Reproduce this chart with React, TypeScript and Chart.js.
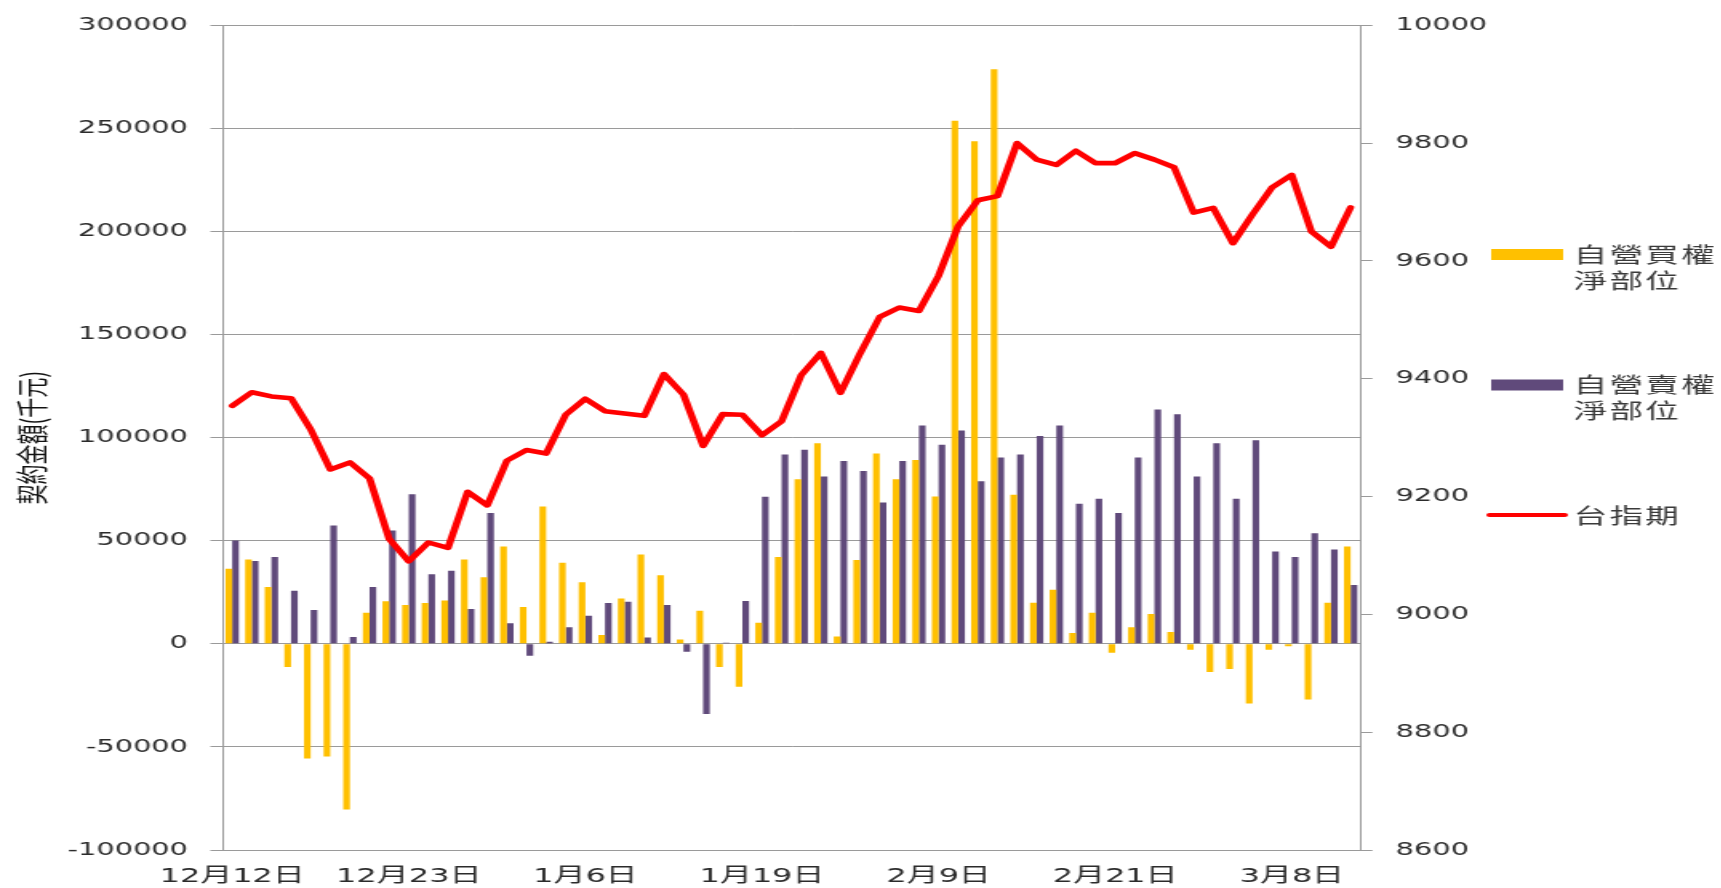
import { useEffect, useRef } from 'react';
import { Chart, registerables } from 'chart.js';

Chart.register(...registerables);

// ---------- data ----------
const dates = [
  '12月12日', '12月13日', '12月14日', '12月15日', '12月16日', '12月19日', '12月20日', '12月21日', '12月22日', '12月23日',
  '12月26日', '12月27日', '12月28日', '12月29日', '12月30日', '1月3日', '1月4日', '1月5日', '1月6日', '1月9日',
  '1月10日', '1月11日', '1月12日', '1月13日', '1月16日', '1月17日', '1月18日', '1月19日', '1月20日', '1月21日',
  '1月22日', '1月23日', '2月3日', '2月4日', '2月5日', '2月6日', '2月9日', '2月10日', '2月11日', '2月12日',
  '2月13日', '2月14日', '2月17日', '2月18日', '2月20日', '2月21日', '2月22日', '2月23日', '2月24日', '2月25日',
  '3月2日', '3月3日', '3月4日', '3月5日', '3月8日', '3月9日', '3月10日', '3月11日',
];

// 自營買權淨部位 (千元)
const buyNet = [
  36450, 40950, 27600, -11240, -55570, -54600, -80300, 15100, 20700, 18790,
  19750, 21040, 40950, 32280, 47220, 17830, 66650, 39350, 29870, 4340,
  22000, 43360, 33240, 2090, 16060, -11240, -20880, 10280, 42080, 79820,
  97320, 3530, 40630, 92350, 79820, 89130, 71470, 253660, 243740, 278660,
  72270, 19910, 26180, 5300, 15100, -4340, 8030, 14450, 5780, -2890,
  -13650, -12200, -28900, -2890, -1120, -26980, 19910, 47220,
];

// 自營賣權淨部位 (千元)
const sellNet = [
  50100, 40150, 42080, 25700, 16380, 57330, 3370, 27620, 54930, 72590,
  33730, 35490, 16860, 63440, 9960, -5780, 960, 8030, 13650, 19750,
  20400, 3050, 18790, -3850, -34050, 480, 20720, 71300, 91860, 94110,
  81100, 88650, 83830, 68580, 88650, 105840, 96520, 103430, 78850, 90420,
  91860, 100860, 105840, 67930, 70340, 63440, 90420, 113700, 111300, 81100,
  97320, 70340, 98770, 44810, 42080, 53640, 45770, 28590,
];

// 台指期
const futures = [
  9354, 9377, 9370, 9367, 9314, 9246, 9258, 9231, 9128, 9090,
  9122, 9113, 9208, 9185, 9261, 9279, 9273, 9339, 9366, 9345,
  9341, 9337, 9408, 9373, 9286, 9340, 9339, 9304, 9328, 9406,
  9444, 9376, 9443, 9505, 9521, 9515, 9575, 9659, 9703, 9710,
  9800, 9772, 9763, 9787, 9766, 9766, 9783, 9772, 9759, 9682,
  9690, 9630, 9679, 9725, 9746, 9650, 9624, 9691,
];

const seriesNames = ['自營買權淨部位', '自營賣權淨部位', '台指期'];
const legendLines = [['自營買權', '淨部位'], ['自營賣權', '淨部位'], ['台指期']];
const yTitle = '契約金額(千元)';
const leftRange = [-100000, 300000];
const leftStep = 50000;
const rightRange = [8600, 10000];
const rightStep = 200;
const labelEvery = 9;

// ---------- style ----------
const YELLOW = '#FFC000';
const PURPLE = '#604A7B';
const RED = '#FF0000';
const GRID = '#9a9a9a';
const TEXT = '#2b2b2b';
const STRETCH = 1.6;
const W = 1076;
const H = 888;
const FONT = '"DejaVu Sans", "Noto Sans CJK TC", sans-serif';
const CJK = '"Noto Sans CJK TC", "DejaVu Sans", sans-serif';

const sideLegend = {
  id: 'sideLegend',
  afterDraw(chart: any) {
    const ctx = chart.ctx as CanvasRenderingContext2D;
    const ds = chart.data.datasets;
    const find = (name: string) => ds.find((d: any) => d.label === name);
    ctx.save();
    const swX = 932;
    const swW = 45;
    const txX = 983.5;
    const adv = 22.4;
    const items = [
      { kind: 'box', color: find(seriesNames[0]).backgroundColor, sy: 254.5, lines: legendLines[0], ty: [254, 280] },
      { kind: 'box', color: find(seriesNames[1]).backgroundColor, sy: 385, lines: legendLines[1], ty: [384, 410] },
      { kind: 'line', color: find(seriesNames[2]).borderColor, sy: 515, lines: legendLines[2], ty: [515] },
    ];
    items.forEach((it) => {
      if (it.kind === 'box') {
        ctx.fillStyle = it.color;
        ctx.fillRect(swX, it.sy - 5.5, swW, 11);
      } else {
        ctx.strokeStyle = it.color;
        ctx.lineWidth = 4;
        ctx.lineCap = 'round';
        ctx.beginPath();
        ctx.moveTo(swX - 1, it.sy);
        ctx.lineTo(swX + swW + 1, it.sy);
        ctx.stroke();
      }
      ctx.fillStyle = '#3a3a3a';
      ctx.font = '21px ' + CJK;
      ctx.textBaseline = 'middle';
      ctx.textAlign = 'left';
      it.lines.forEach((line: string, li: number) => {
        Array.from(line).forEach((ch, k) => {
          ctx.fillText(ch, txX + k * adv, it.ty[li]);
        });
      });
    });
    ctx.restore();
  },
};

const plain = (v: any) => String(v);

export default function App() {
  const ref = useRef<HTMLCanvasElement | null>(null);

  useEffect(() => {
    if (!ref.current) return;
    const chart = new Chart(ref.current, {
      type: 'bar',
      data: {
        labels: dates,
        datasets: [
          {
            type: 'line',
            label: seriesNames[2],
            data: futures,
            yAxisID: 'y1',
            borderColor: RED,
            backgroundColor: RED,
            borderWidth: 4.6,
            pointRadius: 0,
            tension: 0,
            borderJoinStyle: 'round',
            borderCapStyle: 'round',
            order: 0,
          } as any,
          {
            type: 'bar',
            label: seriesNames[0],
            data: buyNet,
            yAxisID: 'y',
            backgroundColor: YELLOW,
            categoryPercentage: 0.68,
            barPercentage: 1.0,
            order: 1,
          },
          {
            type: 'bar',
            label: seriesNames[1],
            data: sellNet,
            yAxisID: 'y',
            backgroundColor: PURPLE,
            categoryPercentage: 0.68,
            barPercentage: 1.0,
            order: 1,
          },
        ],
      },
      options: {
        animation: false,
        responsive: false,
        devicePixelRatio: 1,
        layout: { padding: { top: 19.5, left: 0, right: 0, bottom: 0 } },
        plugins: {
          legend: { display: false },
          tooltip: { enabled: false },
        },
        scales: {
          x: {
            type: 'category',
            grid: { display: false, drawTicks: false },
            border: { display: true, color: GRID, width: 1 },
            ticks: {
              autoSkip: false,
              maxRotation: 0,
              minRotation: 0,
              padding: 15,
              color: TEXT,
              font: { family: FONT, size: 20 },
              callback: (_v: any, i: number) => (i % labelEvery === 0 ? dates[i] : ''),
            },
            afterFit: (s: any) => {
              s.height = 38;
            },
          },
          y: {
            type: 'linear',
            position: 'left',
            min: leftRange[0],
            max: leftRange[1],
            ticks: {
              stepSize: leftStep,
              padding: 14,
              color: TEXT,
              font: { family: FONT, size: 18 },
              callback: plain,
            },
            grid: {
              color: GRID,
              lineWidth: 1,
              drawTicks: true,
              tickLength: 7.5,
              tickColor: GRID,
            },
            border: { display: true, color: GRID, width: 1 },
            title: {
              display: true,
              text: yTitle,
              color: '#111',
              font: { family: CJK, size: 20 },
              padding: { top: 8, bottom: 0 },
            },
            afterFit: (s: any) => {
              s.width = 139;
            },
          },
          y1: {
            type: 'linear',
            position: 'right',
            min: rightRange[0],
            max: rightRange[1],
            ticks: {
              stepSize: rightStep,
              padding: 14.5,
              color: TEXT,
              font: { family: FONT, size: 18 },
              callback: plain,
            },
            grid: {
              drawOnChartArea: false,
              drawTicks: true,
              tickLength: 7.5,
              tickColor: GRID,
              color: GRID,
            },
            border: { display: true, color: GRID, width: 1 },
            afterFit: (s: any) => {
              s.width = W - 850.3;
            },
          },
        },
      },
      plugins: [sideLegend],
    });
    return () => chart.destroy();
  }, []);

  return (
    <div
      style={{
        position: 'absolute',
        left: 0,
        top: 0,
        width: 1721,
        height: 888,
        overflow: 'hidden',
        background: '#fff',
      }}
    >
      <canvas
        ref={ref}
        width={W}
        height={H}
        style={{
          width: W + 'px',
          height: H + 'px',
          display: 'block',
          transform: `scaleX(${STRETCH})`,
          transformOrigin: '0 0',
        }}
      />
    </div>
  );
}
